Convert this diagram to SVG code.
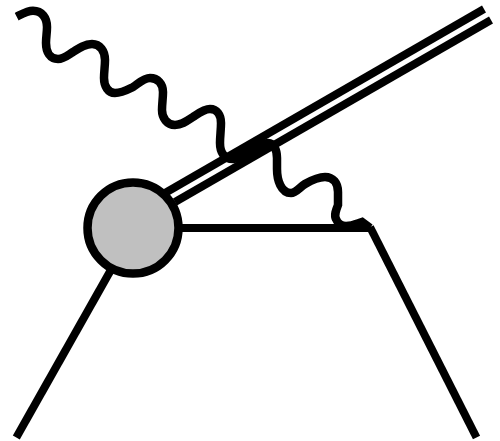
<svg xmlns="http://www.w3.org/2000/svg" width="500" height="441" viewBox="0 0 500 441">
<style>.l{fill:none;stroke:#000;stroke-width:8}</style>
<rect width="500" height="441" fill="#fff"/>
<g id="connectors">
<path class="l" d="M484 9L165 193"/>
<path class="l" d="M491 20L175 202"/>
<path class="l" d="M175 228H370"/>
<path class="l" d="M370 227L476.500 437.500"/>
<path class="l" d="M112 268L16.300 437.500"/>
<path class="l" style="stroke-width:8.5" d="M16.700 16.700C22 14 27 10.700 33 10.700C42 10.700 47 18 47 27C47 33 46 37 46 43C46 52 50 59 58 59C64 59 68 55 73 52C79 48 85 44 92 44C100 44 105 51 105 60C105 66 104 72 104 78C104 86 108 93 115 93C122 93 127 90 133 87C139 83 144 78 150 78C158 78 163 84 163 92C163 98 162 104 162 110C162 118 167 125 175 125C182 125 187 121 193 117C199 113 204 109 210 109C217 109 221 115 221 123C221 130 220 136 220 143C220 152 224 159 233 159C240 159 245 155 250 152C256 148 262 143 268 143C274 143 277 150 277 158C277 162 277 165 277 169C277 180 281 193 291 193C296 193 300 187 305 184C312 180 318 177 325 177C333 177 338 183 338 192C338 197 338 201 338 205C336 210 334 215 336 219C338 224 342 226 346 226C352 226 356 224 362 222L370 228"/>
</g>
<g id="blob">
<circle cx="133" cy="228" r="45.500" fill="#c0c0c0" stroke="#000" stroke-width="8.500"/>
</g>
</svg>
